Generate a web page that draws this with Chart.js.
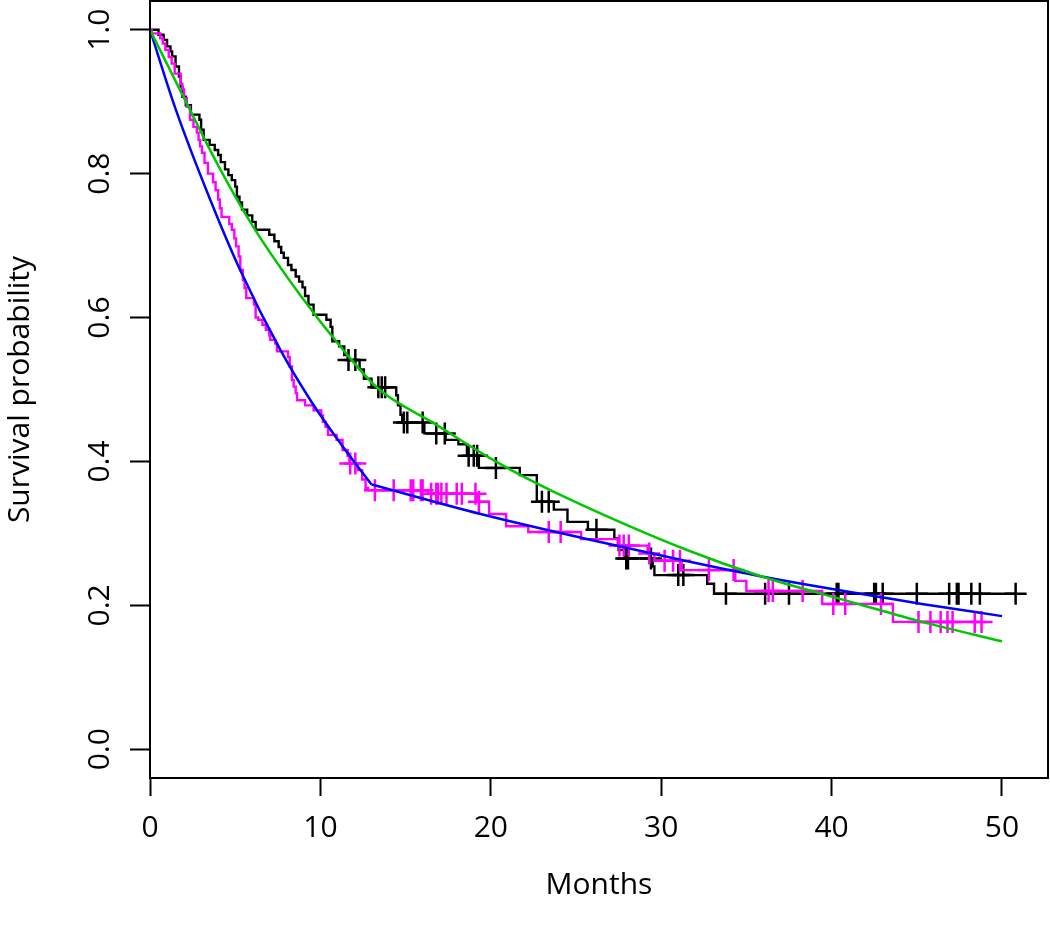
<!DOCTYPE html>
<html>
<head>
<meta charset="utf-8">
<script src="https://cdn.jsdelivr.net/npm/chart.js@4.4.0/dist/chart.umd.min.js"></script>
<style>
  html, body { margin: 0; padding: 0; background: #fff; }
  #wrap { width: 1050px; height: 929px; }
</style>
</head>
<body>
<div id="wrap"><canvas id="myChart"></canvas></div>
<script>
// Kaplan-Meier steps (time in months, survival after the drop)
const blackTimes = [0, 0.5, 0.8, 1.0, 1.2, 1.3, 1.5, 1.7, 1.8, 1.9, 2.1, 2.4, 2.9, 3.0, 3.15, 3.5, 3.8, 4.0, 4.15, 4.4,
  4.6, 4.8, 5.0, 5.1, 5.25, 5.4, 5.7, 6.0, 6.2, 7.0, 7.3, 7.55, 7.7, 7.85, 8.1, 8.3, 8.55, 8.75, 8.95, 9.1,
  9.3, 9.6, 10.35, 10.6, 10.7, 11.1, 11.4, 11.6, 12.3, 12.55, 13.0, 14.45, 14.55, 14.7, 14.8, 16.1, 17.35, 18.1, 18.6, 19.3,
  21.7, 22.7, 23.7, 24.5, 25.7, 27.25, 27.5, 27.85, 29.5, 29.6, 32.7, 33.1, 50.8];
const blackSurv = [1, 0.993, 0.986, 0.977, 0.970, 0.963, 0.949, 0.935, 0.921, 0.907, 0.895, 0.882, 0.875, 0.861, 0.847, 0.840, 0.833, 0.826, 0.816, 0.806,
  0.798, 0.791, 0.782, 0.768, 0.760, 0.750, 0.742, 0.733, 0.722, 0.715, 0.706, 0.698, 0.690, 0.683, 0.673, 0.666, 0.657, 0.650, 0.642, 0.630,
  0.618, 0.604, 0.597, 0.587, 0.567, 0.560, 0.548, 0.541, 0.528, 0.515, 0.503, 0.492, 0.478, 0.465, 0.454, 0.439, 0.430, 0.424, 0.408, 0.391,
  0.381, 0.344, 0.333, 0.316, 0.305, 0.293, 0.277, 0.265, 0.254, 0.242, 0.230, 0.216, 0.216];
const blackCensor = [11.65, 12.05, 13.4, 13.6, 13.8, 14.9, 15.1, 16.0, 16.8, 17.3, 18.7, 19.0, 19.2, 20.3, 23.0, 23.4, 26.2,
  27.95, 28.05, 29.4, 31.0, 31.3, 33.8, 36.1, 37.5, 40.3, 40.4, 42.5, 42.6, 43.0, 45.0, 46.9, 47.35, 47.45, 48.2, 48.7, 50.8];

const magTimes = [0, 0.1, 0.6, 0.75, 0.9, 1.1, 1.27, 1.45, 1.8, 1.9, 2.0, 2.16, 2.35, 2.55, 2.75, 2.85, 2.94, 3.05, 3.2, 3.4,
  3.7, 3.85, 4.0, 4.1, 4.2, 4.65, 4.8, 4.95, 5.05, 5.2, 5.3, 5.45, 5.55, 5.65, 6.1, 6.2, 6.35, 6.6, 6.8, 7.0,
  7.06, 7.35, 7.45, 8.1, 8.2, 8.33, 8.43, 8.55, 8.63, 9.1, 9.6, 10.05, 10.15, 10.3, 10.45, 10.95, 11.3, 11.6, 11.7, 12.2,
  12.45, 12.65, 12.8, 16.3, 19.2, 19.9, 20.9, 22.2, 25.3, 27.45, 29.2, 29.6, 31.2, 34.35, 35.0, 39.45, 43.6, 48.8];
const magSurv = [1, 0.995, 0.988, 0.981, 0.972, 0.962, 0.953, 0.939, 0.925, 0.917, 0.905, 0.893, 0.875, 0.865, 0.857, 0.847, 0.838, 0.829, 0.815, 0.800,
  0.788, 0.777, 0.764, 0.752, 0.740, 0.730, 0.722, 0.710, 0.699, 0.685, 0.666, 0.652, 0.641, 0.627, 0.618, 0.600, 0.597, 0.590, 0.583, 0.575,
  0.569, 0.564, 0.553, 0.545, 0.532, 0.513, 0.504, 0.495, 0.485, 0.478, 0.471, 0.464, 0.455, 0.448, 0.437, 0.430, 0.416, 0.408, 0.397, 0.388,
  0.375, 0.363, 0.360, 0.355, 0.344, 0.327, 0.310, 0.302, 0.292, 0.283, 0.272, 0.262, 0.249, 0.234, 0.220, 0.202, 0.177, 0.177];
const magCensor = [11.75, 12.05, 13.2, 14.3, 15.3, 15.45, 15.9, 16.0, 16.5, 16.8, 16.9, 17.1, 17.4, 18.0, 18.3, 19.1, 19.3,
  23.4, 24.1, 27.55, 27.8, 28.1, 29.3, 30.2, 30.7, 31.1, 32.8, 34.25, 36.3, 36.55, 38.3, 40.1, 40.8, 42.9,
  45.1, 45.8, 46.4, 46.8, 47.1, 48.4, 48.8];

// fitted curves
const greenTimes = [0, 2.0, 4.1, 6.06, 8.82, 11.27, 13.4, 16.67, 20, 22, 25.3, 31.4, 35.9, 41.4, 45.3, 50];
const greenSurv = [1, 0.905, 0.807, 0.726, 0.631, 0.557, 0.501, 0.453, 0.404, 0.378, 0.340, 0.278, 0.240, 0.203, 0.177, 0.150];
const blueTimesA = [0, 1.5, 3.53, 5.29, 7.65, 9.5, 11.18, 13.0];
const blueSurvA = [1, 0.89, 0.764, 0.666, 0.555, 0.482, 0.425, 0.368];
const blueTimesB = [13.0, 19.4, 25.3, 31.2, 35.9, 45.3, 50];
const blueSurvB = [0.368, 0.327, 0.294, 0.263, 0.240, 0.202, 0.185];

const xTicks = [0, 10, 20, 30, 40, 50];
const yTicks = [0, 0.2, 0.4, 0.6, 0.8, 1.0];

const FONT = "'Open Sans', 'Noto Sans', sans-serif";

function pts(ts, ss) { return ts.map((t, i) => ({ x: t, y: ss[i] })); }
function survAt(ts, ss, t) {
  let v = ss[0];
  for (let i = 0; i < ts.length; i++) if (ts[i] <= t) v = ss[i];
  return v;
}
function censorPts(cs, ts, ss) { return cs.map(t => ({ x: t, y: survAt(ts, ss, t) })); }

// no extra room for tick labels: the plot box is fixed
function noPad(s) { s.paddingLeft = 0; s.paddingRight = 0; s.paddingTop = 0; s.paddingBottom = 0; }

const boxPlugin = {
  id: 'box',
  afterDatasetsDraw(chart) {
    const { ctx, chartArea: a } = chart;
    ctx.save();
    ctx.strokeStyle = '#000';
    ctx.lineWidth = 2;
    ctx.strokeRect(a.left, a.top, a.right - a.left, a.bottom - a.top);
    ctx.restore();
  }
};

const ctx = document.getElementById('myChart');

// 'before' = flat at the old value, then drop at the new time (KM style)
new Chart(ctx, {
  type: 'line',
  data: {
    datasets: [
      { data: pts(greenTimes, greenSurv), borderColor: '#00c800', borderWidth: 2.5, cubicInterpolationMode: 'monotone', pointRadius: 0, order: 0 },
      { data: pts(blueTimesA, blueSurvA), borderColor: '#0000ff', borderWidth: 2.5, cubicInterpolationMode: 'monotone', pointRadius: 0, order: 0 },
      { data: pts(blueTimesB, blueSurvB), borderColor: '#0000ff', borderWidth: 2.5, cubicInterpolationMode: 'monotone', pointRadius: 0, order: 0 },
      { data: pts(magTimes, magSurv), borderColor: '#ff00ff', borderWidth: 2.4, stepped: 'before', pointRadius: 0, order: 1 },
      { data: censorPts(magCensor, magTimes, magSurv), showLine: false, pointStyle: 'cross', pointRadius: 11,
        pointBorderWidth: 2.5, borderColor: '#ff00ff', order: 1 },
      { data: pts(blackTimes, blackSurv), borderColor: '#000000', borderWidth: 2.4, stepped: 'before', pointRadius: 0, order: 2 },
      { data: censorPts(blackCensor, blackTimes, blackSurv), showLine: false, pointStyle: 'cross', pointRadius: 11,
        pointBorderWidth: 2.5, borderColor: '#000000', order: 2 }
    ]
  },
  options: {
    responsive: true,
    maintainAspectRatio: false,
    animation: false,
    layout: { autoPadding: false, padding: { top: 1, right: 2, left: 0, bottom: 0 } },
    plugins: {
      legend: { display: false },
      tooltip: { enabled: false }
    },
    scales: {
      x: {
        type: 'linear',
        min: 0,
        max: 52.7,
        afterBuildTicks: s => { s.ticks = xTicks.map(v => ({ value: v })); },
        afterFit: s => { s.height = 151; noPad(s); },
        grid: { display: true, drawOnChartArea: false, drawTicks: true, tickLength: 18, tickWidth: 2, tickColor: '#000' },
        border: { display: true, color: '#000', width: 2 },
        ticks: {
          color: '#000',
          font: { family: FONT, size: 30 },
          padding: 14,
          maxRotation: 0,
          autoSkip: false,
          callback: v => String(v)
        },
        title: {
          display: true,
          text: 'Months',
          color: '#000',
          font: { family: FONT, size: 30 },
          padding: { top: 0, bottom: 26 }
        }
      },
      y: {
        min: -0.04,
        max: 1.04,
        afterBuildTicks: s => { s.ticks = yTicks.map(v => ({ value: v })); },
        afterFit: s => { s.width = 150; noPad(s); },
        grid: { display: true, drawOnChartArea: false, drawTicks: true, tickLength: 20, tickWidth: 2, tickColor: '#000' },
        border: { display: true, color: '#000', width: 2 },
        ticks: {
          color: '#000',
          font: { family: FONT, size: 30 },
          padding: 8,
          minRotation: 90,
          maxRotation: 90,
          crossAlign: 'center',
          callback: v => v.toFixed(1)
        },
        title: {
          display: true,
          text: 'Survival probability',
          color: '#000',
          font: { family: FONT, size: 30 },
          padding: { top: 2, bottom: 0 }
        }
      }
    }
  },
  plugins: [boxPlugin]
});
</script>
</body>
</html>
